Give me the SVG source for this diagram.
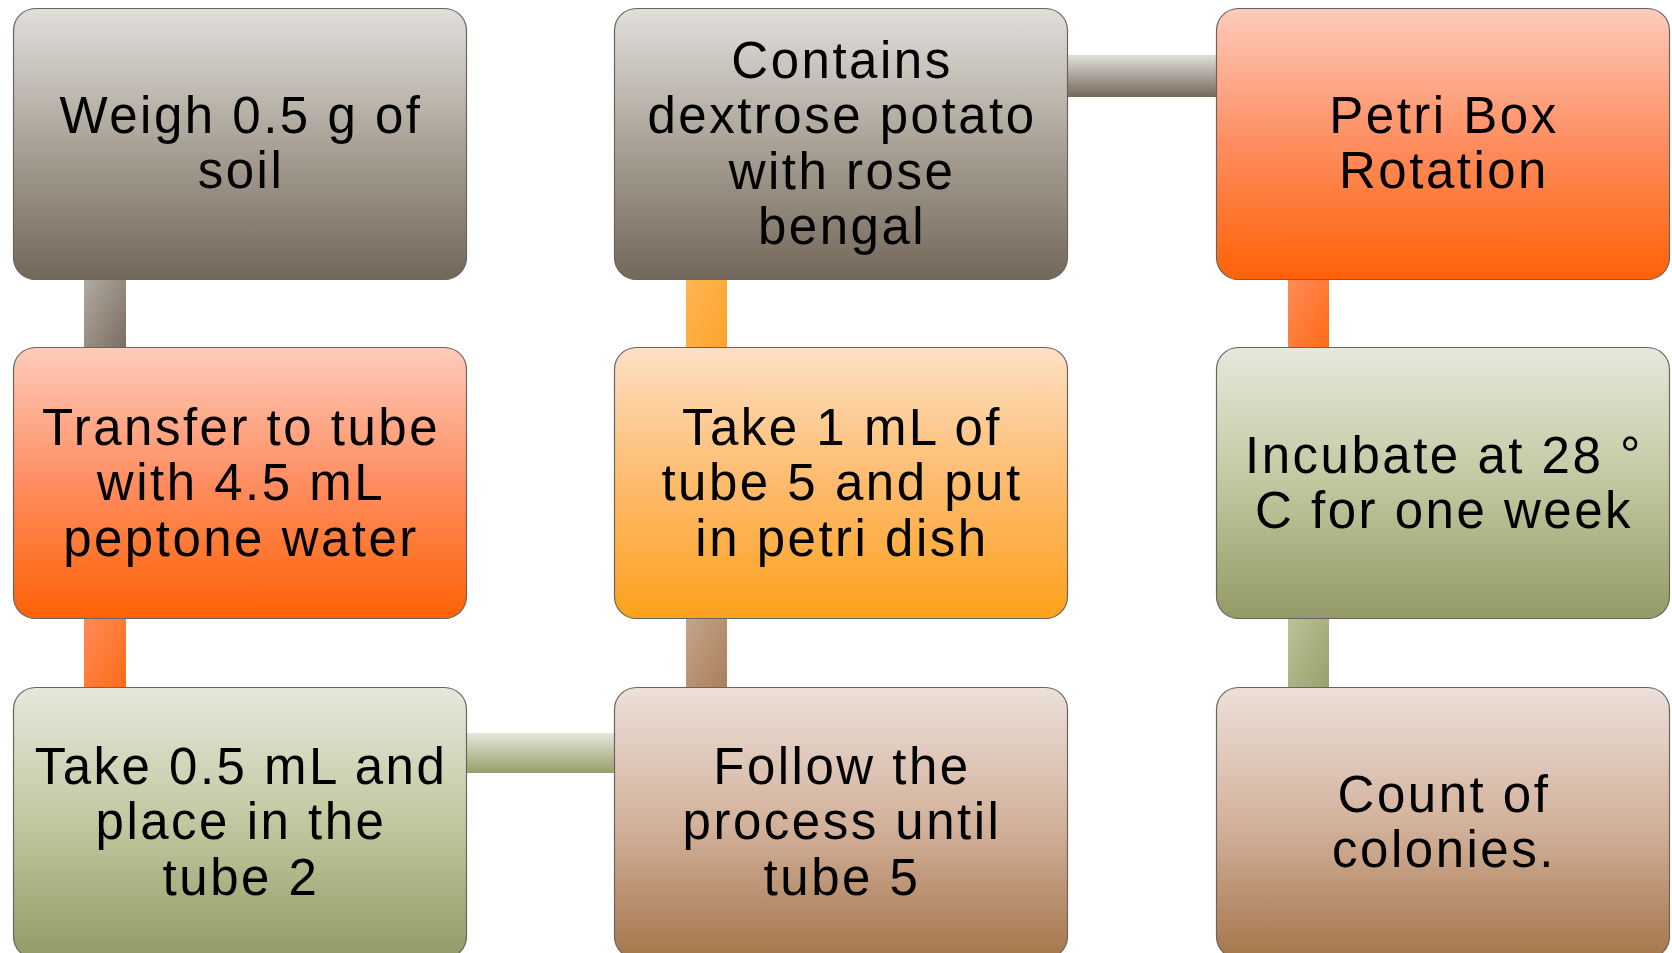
<svg xmlns="http://www.w3.org/2000/svg" width="1672" height="953" viewBox="0 0 1672 953">
<defs>
<linearGradient id="gGray" x1="0" y1="0" x2="0" y2="1"><stop offset="0" stop-color="#e1dfdb"/><stop offset="0.5" stop-color="#aaa297"/><stop offset="1" stop-color="#736759"/></linearGradient>
<linearGradient id="gRed" x1="0" y1="0" x2="0" y2="1"><stop offset="0" stop-color="#fecbbb"/><stop offset="0.5" stop-color="#fe8d60"/><stop offset="1" stop-color="#ff6205"/></linearGradient>
<linearGradient id="gOrange" x1="0" y1="0" x2="0" y2="1"><stop offset="0" stop-color="#fee0c4"/><stop offset="0.5" stop-color="#fdbb6d"/><stop offset="1" stop-color="#fda11c"/></linearGradient>
<linearGradient id="gGreen" x1="0" y1="0" x2="0" y2="1"><stop offset="0" stop-color="#e6e8dc"/><stop offset="0.5" stop-color="#c3c7a0"/><stop offset="1" stop-color="#949a66"/></linearGradient>
<linearGradient id="gBrown" x1="0" y1="0" x2="0" y2="1"><stop offset="0" stop-color="#ece0da"/><stop offset="0.5" stop-color="#d3b29c"/><stop offset="1" stop-color="#a5764b"/></linearGradient>
<linearGradient id="cGray" x1="0" y1="0" x2="1" y2="1"><stop offset="0" stop-color="#b4aca2"/><stop offset="1" stop-color="#786c5f"/></linearGradient>
<linearGradient id="cRed" x1="0" y1="0" x2="1" y2="1"><stop offset="0" stop-color="#ff8c5a"/><stop offset="1" stop-color="#ff6a14"/></linearGradient>
<linearGradient id="cOrange" x1="0" y1="0" x2="1" y2="1"><stop offset="0" stop-color="#feb555"/><stop offset="1" stop-color="#fda42a"/></linearGradient>
<linearGradient id="cBrown" x1="0" y1="0" x2="1" y2="1"><stop offset="0" stop-color="#c7a58d"/><stop offset="1" stop-color="#a97e59"/></linearGradient>
<linearGradient id="cGreen" x1="0" y1="0" x2="1" y2="1"><stop offset="0" stop-color="#bfc39a"/><stop offset="1" stop-color="#989e6b"/></linearGradient>
<linearGradient id="hGreen" x1="0" y1="0" x2="0" y2="1"><stop offset="0" stop-color="#e6e8dc"/><stop offset="1" stop-color="#979d69"/></linearGradient>
<linearGradient id="hGray" x1="0" y1="0" x2="0" y2="1"><stop offset="0" stop-color="#e1dfdb"/><stop offset="1" stop-color="#736759"/></linearGradient>
</defs>
<style>
.box{stroke:#6a6460;stroke-width:1.2}
.t{font-family:"Liberation Sans",Arial,sans-serif;font-size:51px;letter-spacing:2.5px;fill:#000;text-anchor:middle}
</style>
<rect width="1672" height="953" fill="#ffffff"/>
<g id="connectors">
<rect x="84" y="275" width="42" height="77" fill="url(#cGray)"/>
<rect x="84" y="614" width="42" height="78" fill="url(#cRed)"/>
<rect x="461" y="733" width="158" height="40" fill="url(#hGreen)"/>
<rect x="686" y="614" width="41" height="78" fill="url(#cBrown)"/>
<rect x="686" y="275" width="41" height="77" fill="url(#cOrange)"/>
<rect x="1062" y="55" width="160" height="42" fill="url(#hGray)"/>
<rect x="1288" y="275" width="41" height="77" fill="url(#cRed)"/>
<rect x="1288" y="614" width="41" height="78" fill="url(#cGreen)"/>
</g>
<g id="n1">
<rect class="box" x="13.5" y="8.5" width="453" height="271" rx="22" fill="url(#gGray)"/>
<text class="t"><tspan x="241" y="133">Weigh 0.5 g of</tspan><tspan x="241" y="188">soil</tspan></text>
</g>
<g id="n2">
<rect class="box" x="13.5" y="347.5" width="453" height="271" rx="22" fill="url(#gRed)"/>
<text class="t"><tspan x="241" y="444.5">Transfer to tube</tspan><tspan x="241" y="500">with 4.5 mL</tspan><tspan x="241" y="555.5">peptone water</tspan></text>
</g>
<g id="n3">
<rect class="box" x="13.5" y="687.5" width="453" height="271" rx="22" fill="url(#gGreen)"/>
<text class="t"><tspan x="241" y="783.5">Take 0.5 mL and</tspan><tspan x="241" y="839">place in the</tspan><tspan x="241" y="894.5">tube 2</tspan></text>
</g>
<g id="n4">
<rect class="box" x="614.5" y="687.5" width="453" height="271" rx="22" fill="url(#gBrown)"/>
<text class="t"><tspan x="842" y="783.5">Follow the</tspan><tspan x="842" y="839">process until</tspan><tspan x="842" y="894.5">tube 5</tspan></text>
</g>
<g id="n5">
<rect class="box" x="614.5" y="347.5" width="453" height="271" rx="22" fill="url(#gOrange)"/>
<text class="t"><tspan x="842" y="444.5">Take 1 mL of</tspan><tspan x="842" y="500">tube 5 and put</tspan><tspan x="842" y="555.5">in petri dish</tspan></text>
</g>
<g id="n6">
<rect class="box" x="614.5" y="8.5" width="453" height="271" rx="22" fill="url(#gGray)"/>
<text class="t"><tspan x="842" y="77.5">Contains</tspan><tspan x="842" y="133">dextrose potato</tspan><tspan x="842" y="188.5">with rose</tspan><tspan x="842" y="244">bengal</tspan></text>
</g>
<g id="n7">
<rect class="box" x="1216.5" y="8.5" width="453" height="271" rx="22" fill="url(#gRed)"/>
<text class="t"><tspan x="1444" y="133">Petri Box</tspan><tspan x="1444" y="188">Rotation</tspan></text>
</g>
<g id="n8">
<rect class="box" x="1216.5" y="347.5" width="453" height="271" rx="22" fill="url(#gGreen)"/>
<text class="t"><tspan x="1444" y="472.5">Incubate at 28 °</tspan><tspan x="1444" y="528">C for one week</tspan></text>
</g>
<g id="n9">
<rect class="box" x="1216.5" y="687.5" width="453" height="271" rx="22" fill="url(#gBrown)"/>
<text class="t"><tspan x="1444" y="811.5">Count of</tspan><tspan x="1444" y="867">colonies.</tspan></text>
</g>
</svg>
